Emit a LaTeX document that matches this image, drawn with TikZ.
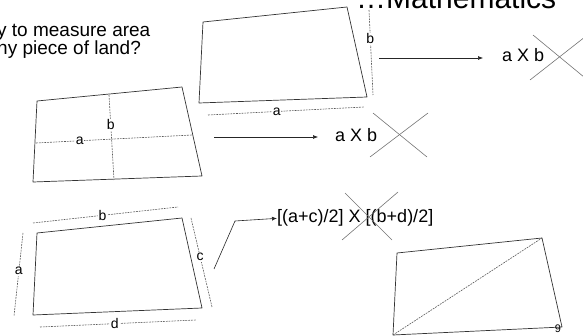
\documentclass[tikz,border=0pt]{standalone}
\usepackage{fontspec}
\setmainfont{Liberation Sans}
\usetikzlibrary{arrows.meta,positioning}

\begin{document}
\begin{tikzpicture}[
  x=1pt, y=-1pt,
  plot/.style={draw=black!80, line width=0.7pt, line join=round},
  measure/.style={draw=black!65, line width=0.6pt, dash pattern=on 1.8pt off 1pt},
  side/.style={fill=white, inner sep=0.8pt, font=\fontsize{14}{14}\selectfont},
  arrow/.style={-{Latex[length=5pt,width=4pt]}, draw=black!85, line width=0.6pt},
  strike/.style={draw=black!55, line width=0.6pt},
  result/.style={font=\fontsize{18}{18}\selectfont, inner sep=0pt, anchor=base west}
]
\useasboundingbox (0,0) rectangle (583,336);
\clip (0,0) rectangle (583,336);

% heading and question
\node[font=\fontsize{30}{30}\selectfont, inner sep=0pt, anchor=base west] (title) at (356,9) {…Mathematics};
\node[font=\fontsize{19}{17}\selectfont, inner sep=0pt, anchor=base west, align=left] (question) at (-3,55) {y to measure area\\ny piece of land?};

% plot seen from above, sides a and b
\draw[plot] (203,22) -- (347,7) -- (367,97) -- (199,103) -- cycle;
\draw[measure] (369,10) -- node[side, pos=0.34] (b1) {b} (373,95);
\draw[measure] (208,115) -- node[side, pos=0.44] (a1) {a} (364,107);
\coordinate (s1) at (379,58);
\coordinate (e1) at (483,58);
\draw[arrow] (s1) -- (e1);
\node[result] (prod1) at (502,62) {a X b};
\draw[strike] (533,35) -- (590,82);
\draw[strike] (530,80) -- (590,33);

% plot with middle lines
\draw[plot] (37,101) -- (182,87) -- (202,176) -- (33,182) -- cycle;
\draw[measure] (36,143) -- node[side, pos=0.28] (a2) {a} (192,135);
\draw[measure] (109,95) -- node[side, pos=0.35] (b2) {b} (114,180);
\coordinate (s2) at (214,137);
\coordinate (e2) at (318,137);
\draw[arrow] (s2) -- (e2);
\node[result] (prod2) at (335,142) {a X b};
\draw[strike] (373,113) -- (427,157);
\draw[strike] (370,157) -- (428,113);

% plot with four sides
\draw[plot] (37,233) -- (182,218) -- (202,308) -- (33,315) -- cycle;
\draw[measure] (33,223) -- node[side, pos=0.48] (b3) {b} (178,207);
\draw[measure] (23,233) -- node[side, pos=0.46] (a3) {a} (14,316);
\draw[measure] (191,218) -- node[side, pos=0.44] (c3) {c} (212,307);
\draw[measure] (40,327) -- node[side, pos=0.48] (d3) {d} (196,320);
\node[result] (prod3) at (277,223) {[(a+c)/2] X [(b+d)/2]};
\coordinate (s3) at (214,269);
\coordinate (k3) at (235,221);
\draw[arrow] (s3) -- (k3) -- (prod3.west);
\draw[strike] (345,193) -- (392,240);
\draw[strike] (342,240) -- (398,192);

% plot cut by a diagonal
\draw[plot] (397,253) -- (542,238) -- (562,327) -- (393,335) -- cycle;
\draw[measure] (393,335) -- (542,238);
\node[font=\fontsize{11}{11}\selectfont, inner sep=0pt] (page) at (558,329) {9};
\end{tikzpicture}
\end{document}
